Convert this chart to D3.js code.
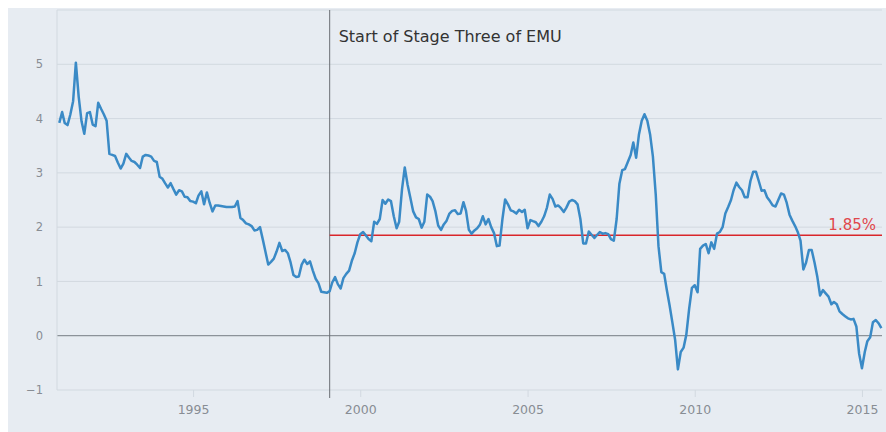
<!DOCTYPE html>
<html>
<head>
<meta charset="utf-8">
<script src="https://cdn.jsdelivr.net/npm/d3@7"></script>
<style>
  html, body { margin: 0; padding: 0; background: #fff; }
  #container { width: 886px; height: 432px; }
  text { font-family: "DejaVu Sans", Verdana, sans-serif; }
</style>
</head>
<body>
<div id="container"></div>
<script>
// Euro area HICP, annual rate (%), monthly from Jan 1991
const firstYear = 1991;
const hicp = [
  3.92, 4.12, 3.92, 3.88, 4.07, 4.32, 5.03, 4.40, 3.95, 3.72, 4.10, 4.12, // 1991
  3.89, 3.86, 4.29, 4.18, 4.08, 3.96, 3.35, 3.33, 3.31, 3.19, 3.08, 3.17, // 1992
  3.35, 3.28, 3.22, 3.20, 3.15, 3.09, 3.30, 3.33, 3.32, 3.30, 3.22, 3.20, // 1993
  2.93, 2.89, 2.81, 2.73, 2.81, 2.70, 2.60, 2.68, 2.66, 2.56, 2.55, 2.48, // 1994
  2.47, 2.44, 2.58, 2.66, 2.42, 2.64, 2.45, 2.29, 2.40, 2.40, 2.39, 2.38, // 1995
  2.37, 2.37, 2.37, 2.38, 2.48, 2.17, 2.13, 2.07, 2.05, 2.02, 1.94, 1.95, // 1996
  2.00, 1.77, 1.55, 1.31, 1.36, 1.42, 1.55, 1.71, 1.56, 1.58, 1.52, 1.35, // 1997
  1.12, 1.08, 1.09, 1.31, 1.40, 1.32, 1.37, 1.20, 1.05, 0.97, 0.81, 0.80, // 1998
  0.79, 0.82, 0.98, 1.08, 0.95, 0.87, 1.06, 1.14, 1.20, 1.38, 1.52, 1.72, // 1999
  1.87, 1.91, 1.85, 1.78, 1.74, 2.10, 2.06, 2.15, 2.50, 2.43, 2.51, 2.48, // 2000
  2.20, 1.98, 2.10, 2.70, 3.10, 2.78, 2.54, 2.29, 2.18, 2.15, 1.99, 2.10, // 2001
  2.60, 2.56, 2.48, 2.29, 2.03, 1.95, 2.05, 2.12, 2.25, 2.30, 2.31, 2.24, // 2002
  2.25, 2.46, 2.30, 1.95, 1.88, 1.94, 1.98, 2.05, 2.20, 2.05, 2.15, 2.00, // 2003
  1.89, 1.65, 1.66, 2.14, 2.51, 2.42, 2.31, 2.29, 2.25, 2.32, 2.28, 2.32, // 2004
  1.98, 2.13, 2.11, 2.09, 2.02, 2.10, 2.20, 2.36, 2.60, 2.52, 2.38, 2.40, // 2005
  2.35, 2.28, 2.36, 2.47, 2.50, 2.48, 2.42, 2.15, 1.70, 1.70, 1.92, 1.86, // 2006
  1.80, 1.86, 1.91, 1.88, 1.89, 1.87, 1.78, 1.75, 2.15, 2.80, 3.05, 3.07, // 2007
  3.20, 3.33, 3.56, 3.28, 3.70, 3.96, 4.08, 3.96, 3.70, 3.30, 2.60, 1.65, // 2008
  1.17, 1.14, 0.85, 0.56, 0.25, -0.08, -0.62, -0.30, -0.22, 0.02, 0.50, 0.88, // 2009
  0.93, 0.80, 1.60, 1.66, 1.69, 1.52, 1.72, 1.60, 1.88, 1.91, 2.00, 2.25, // 2010
  2.37, 2.50, 2.68, 2.82, 2.74, 2.68, 2.55, 2.55, 2.85, 3.02, 3.02, 2.85, // 2011
  2.67, 2.68, 2.55, 2.48, 2.40, 2.38, 2.50, 2.62, 2.60, 2.45, 2.23, 2.12, // 2012
  2.02, 1.90, 1.75, 1.22, 1.35, 1.58, 1.58, 1.35, 1.08, 0.74, 0.84, 0.78, // 2013
  0.72, 0.58, 0.62, 0.58, 0.45, 0.40, 0.36, 0.32, 0.30, 0.31, 0.17, -0.33, // 2014
  -0.60, -0.30, -0.10, -0.03, 0.25, 0.29, 0.23, 0.14 // 2015
];
const yTicks = [-1, 0, 1, 2, 3, 4, 5, 6];
const yLabels = [-1, 0, 1, 2, 3, 4, 5];
const xTickYears = [1995, 2000, 2005, 2010, 2015];
const target = 1.85;
const targetLabel = "1.85%";
const emuDate = new Date(1999, 1, 1);
const emuLabel = "Start of Stage Three of EMU";

const width = 886, height = 432;
const data = hicp.map((v, i) => ({ date: new Date(firstYear, i, 1), value: v }));

const svg = d3.select("#container").append("svg")
  .attr("width", width)
  .attr("height", height);

// panel background
svg.append("rect")
  .attr("x", 8).attr("y", 8)
  .attr("width", width - 8).attr("height", height - 8)
  .attr("fill", "#e7ecf2");

const plot = { left: 57, right: 882, top: 10, bottom: 390 };

const x = d3.scaleTime()
  .domain([new Date(1990, 11, 7), new Date(2015, 7, 8)])
  .range([plot.left, plot.right]);

const y = d3.scaleLinear()
  .domain([-1, 6])
  .range([plot.bottom, plot.top]);

// gridlines
svg.append("g")
  .selectAll("line")
  .data(yTicks)
  .join("line")
  .attr("x1", plot.left)
  .attr("x2", plot.right)
  .attr("y1", d => y(d))
  .attr("y2", d => y(d))
  .attr("stroke", d => d === 0 ? "#8c9299" : "#d2d9e0")
  .attr("stroke-width", d => d === 0 ? 1.2 : 1);

// left axis line
svg.append("line")
  .attr("x1", plot.left).attr("x2", plot.left)
  .attr("y1", plot.top).attr("y2", plot.bottom)
  .attr("stroke", "#d2d9e0");

// y labels
const yAxis = svg.append("g")
  .attr("transform", `translate(${plot.left - 11},0)`)
  .call(d3.axisLeft(y).tickValues(yLabels).tickSize(0).tickFormat(d3.format("d")));
yAxis.select(".domain").remove();
yAxis.selectAll("text")
  .attr("fill", "#888d94")
  .style("font-size", "11.5px")
  .style("font-family", "DejaVu Sans, sans-serif");

// x axis
const xAxis = svg.append("g")
  .attr("transform", `translate(0,${plot.bottom})`)
  .call(d3.axisBottom(x)
    .tickValues(xTickYears.map(yr => new Date(yr, 0, 1)))
    .tickSize(7)
    .tickPadding(8)
    .tickFormat(d3.timeFormat("%Y")));
xAxis.select(".domain").remove();
xAxis.selectAll("line").attr("stroke", "#d2d9e0");
xAxis.selectAll("text")
  .attr("fill", "#888d94")
  .style("font-size", "12.5px")
  .style("font-family", "DejaVu Sans, sans-serif");

// EMU vertical marker
svg.append("line")
  .attr("x1", x(emuDate)).attr("x2", x(emuDate))
  .attr("y1", plot.top).attr("y2", plot.bottom + 8)
  .attr("stroke", "#6b6f75")
  .attr("stroke-width", 1);

svg.append("text")
  .attr("x", x(emuDate) + 9)
  .attr("y", 42)
  .attr("fill", "#333")
  .style("font-size", "16px")
  .text(emuLabel);

// target line
svg.append("line")
  .attr("x1", x(emuDate)).attr("x2", plot.right)
  .attr("y1", y(target)).attr("y2", y(target))
  .attr("stroke", "#d9262b")
  .attr("stroke-width", 1.5);

svg.append("text")
  .attr("x", plot.right - 6)
  .attr("y", y(target) - 5)
  .attr("text-anchor", "end")
  .attr("fill", "#e0474c")
  .style("font-size", "15px")
  .text(targetLabel);

// inflation line
const line = d3.line()
  .x(d => x(d.date))
  .y(d => y(d.value));

svg.append("path")
  .datum(data)
  .attr("fill", "none")
  .attr("stroke", "#3a8ac6")
  .attr("stroke-width", 2.5)
  .attr("stroke-linejoin", "round")
  .attr("d", line);
</script>
</body>
</html>
